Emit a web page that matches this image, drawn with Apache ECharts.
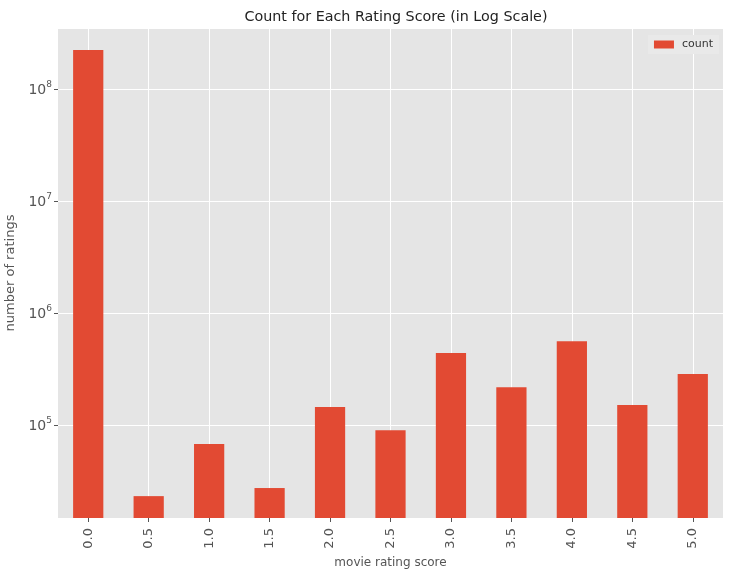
<!DOCTYPE html>
<html>
<head>
<meta charset="utf-8">
<script src="https://cdn.jsdelivr.net/npm/echarts@6/dist/echarts.min.js"></script>
<style>
  html, body { margin: 0; padding: 0; background: #fff; }
  #chart { width: 731px; height: 570px; }
</style>
</head>
<body>
<div id="chart"></div>
<script>
// rating scores and their counts
var scores = ['0.0', '0.5', '1.0', '1.5', '2.0', '2.5', '3.0', '3.5', '4.0', '4.5', '5.0'];
var counts = [223000000, 23200, 67700, 27400, 145000, 90000, 440000, 218000, 560000, 151000, 285000];
var yMin = 14800;
var yMax = 350000000;

var myChart = echarts.init(document.getElementById('chart'));

// vertical white grid lines sit on the bar centres, like matplotlib
var centreLines = [];
for (var i = 0; i < scores.length; i++) {
    centreLines.push({xAxis: scores[i]});
}

myChart.setOption({
    backgroundColor: '#fff',
    textStyle: {fontFamily: 'DejaVu Sans'},
    title: {
        text: 'Count for Each Rating Score (in Log Scale)',
        left: 391,
        textAlign: 'center',
        top: 5,
        textStyle: {fontSize: 14.3, fontWeight: 'normal', color: '#222'}
    },
    legend: {
        data: ['count'],
        icon: 'rect',
        right: 12,
        top: 35,
        itemWidth: 20,
        itemHeight: 8,
        padding: [4, 6],
        backgroundColor: '#e9e9e9',
        textStyle: {fontSize: 11, color: '#333', padding: [0, 0, 0, 3]}
    },
    grid: {
        left: 58,
        right: 8,
        top: 28,
        bottom: 52,
        outerBoundsMode: 'none',
        containLabel: false,
        show: true,
        backgroundColor: '#e5e5e5',
        borderWidth: 0
    },
    xAxis: {
        type: 'category',
        data: scores,
        name: 'movie rating score',
        nameLocation: 'middle',
        nameGap: 36,
        nameTextStyle: {fontSize: 12, color: '#555'},
        axisLine: {show: false},
        axisTick: {show: true, alignWithLabel: true, length: 4, lineStyle: {color: '#555'}},
        axisLabel: {rotate: 90, fontSize: 13, color: '#555', margin: 10},
        splitLine: {show: false}
    },
    yAxis: {
        type: 'log',
        logBase: 10,
        min: yMin,
        max: yMax,
        name: 'number of ratings',
        nameLocation: 'middle',
        nameGap: 31,
        nameTextStyle: {fontSize: 13, color: '#555'},
        axisLine: {show: false},
        axisTick: {show: true, length: 4, lineStyle: {color: '#555'}},
        axisLabel: {
            showMinLabel: false,
            showMaxLabel: false,
            margin: 6,
            formatter: function (v) {
                var e = Math.log10(v);
                if (Math.abs(e - Math.round(e)) > 1e-6) return '';
                return '{b|10}{s|' + Math.round(e) + '}';
            },
            rich: {
                b: {fontSize: 14, color: '#555', verticalAlign: 'bottom'},
                s: {fontSize: 9, color: '#555', verticalAlign: 'top', padding: [0, 0, 8, 0]}
            }
        },
        splitLine: {show: true, lineStyle: {color: '#fff', width: 1}}
    },
    series: [{
        name: 'grid',
        type: 'line',
        data: [],
        z: 1,
        silent: true,
        markLine: {
            z: 1,
            symbol: 'none',
            silent: true,
            label: {show: false},
            lineStyle: {color: '#fff', width: 1, type: 'solid'},
            data: centreLines
        }
    }, {
        name: 'count',
        type: 'bar',
        data: counts,
        barWidth: '50%',
        z: 3,
        itemStyle: {color: '#e24a33'}
    }]
});
</script>
</body>
</html>
